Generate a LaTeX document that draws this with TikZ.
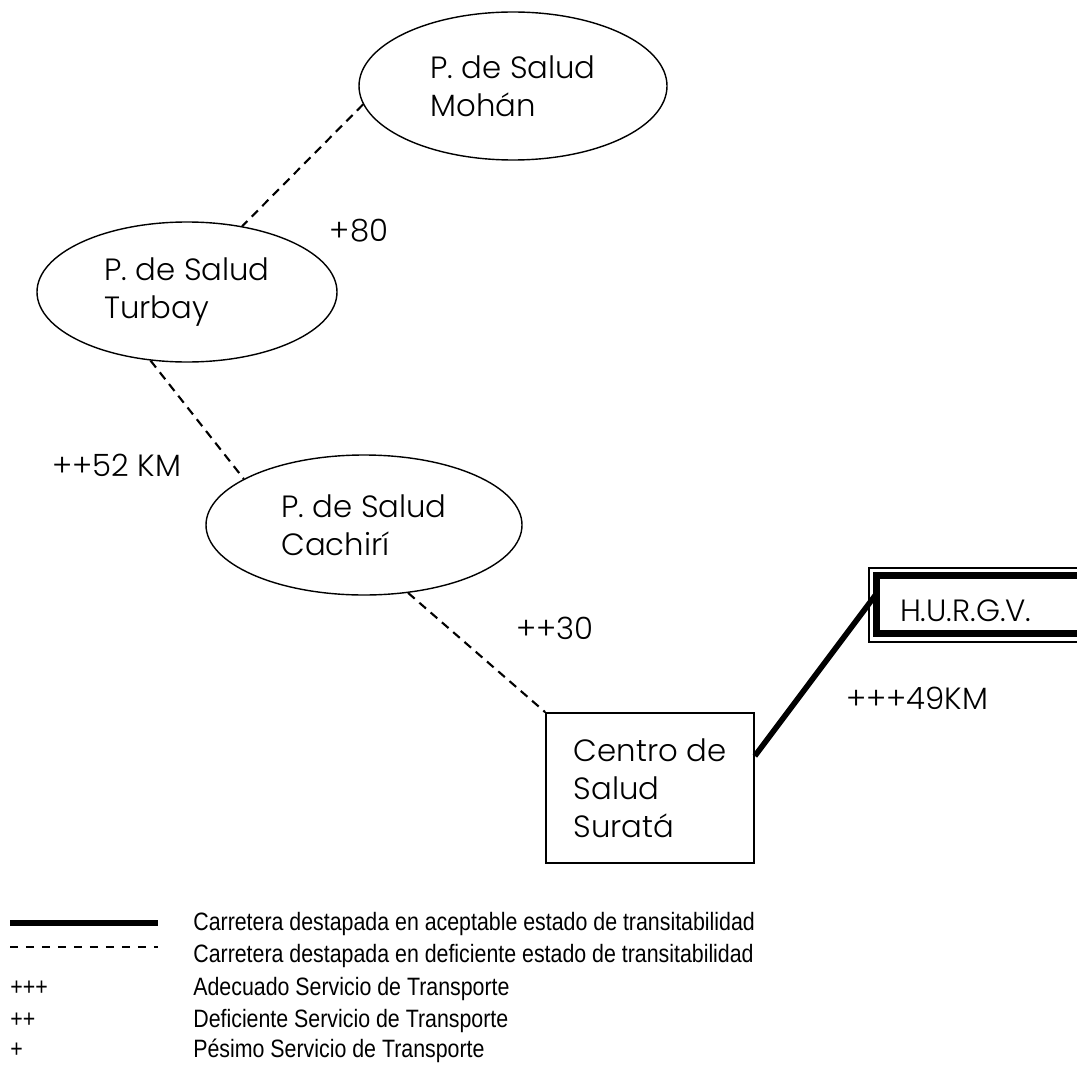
\documentclass[tikz,border=0pt]{standalone}
\usepackage{fontspec}
\setmainfont{Poppins}[UprightFont=* Light]
\newfontfamily\legendfont{Liberation Sans}[FakeStretch=0.85]
\usetikzlibrary{shapes.geometric,calc}

\begin{document}
\begin{tikzpicture}[x=0.02cm,y=-0.02cm,
  puesto/.style={ellipse,draw,line width=0.8pt,align=left,inner sep=0pt,font=\fontsize{17.5}{21.6}\selectfont},
  trocha/.style={line width=1.2pt,dash pattern=on 5pt off 3.5pt},
  via/.style={line width=3.2pt},
  etiq/.style={inner sep=0pt,font=\fontsize{17.5}{21.6}\selectfont},
  leyenda/.style={anchor=base west,inner sep=0pt,font=\legendfont\fontsize{14.3}{17}\selectfont}]
\def\pix{0.02cm}
\useasboundingbox (0,0) rectangle (1077,1064);

% puestos de salud %
\node[puesto,minimum width=308*\pix,minimum height=148*\pix] (mohan) at (513,86) {P. de Salud\\Mohán};
\node[puesto,minimum width=300*\pix,minimum height=140*\pix] (turbay) at (187,292) {P. de Salud\\Turbay};
\node[puesto,minimum width=316*\pix,minimum height=140*\pix] (cachiri) at (364,525) {P. de Salud\\Cachirí};

% centro de salud y hospital %
\node[draw,line width=1pt,align=left,minimum width=208*\pix,minimum height=150*\pix,
  font=\fontsize{17.5}{21.6}\selectfont] (surata) at (650,788) {Centro de\\Salud\\Suratá};
\node[draw,line width=3.8pt,outer sep=0pt,anchor=west,minimum height=58*\pix,
  text width=200*\pix,inner xsep=23.5*\pix,text height=19.7pt,text depth=0pt,align=left,
  font=\fontsize{17.5}{21.6}\selectfont] (hosp) at (876.5,604.5) {H.U.R.G.V.};
\draw[line width=0.6pt] ($(hosp.north west)+(-7.5,-7.5)$) rectangle ($(hosp.south east)+(7.5,8.5)$);

% vias %
\draw[trocha] (mohan.187) -- (turbay.50);
\draw[trocha] (turbay.242) -- (cachiri.159);
\draw[trocha] (cachiri.303) -- (surata.north west);
\draw[via] (surata.17) -- (hosp.175);

% distancias y servicio %
\node[etiq] (l80) at (359,231) {+80};
\node[etiq] (l52) at (117,465) {++52 KM};
\node[etiq] (l30) at (555,628) {++30};
\node[etiq] (l49) at (917,698) {+++49KM};

% convenciones %
\coordinate (a1) at (10,923);
\coordinate (a2) at (158,923);
\coordinate (b1) at (10,947);
\coordinate (b2) at (158,947);
\draw[line width=3.4pt] (a1) -- (a2);
\draw[line width=1.1pt,dash pattern=on 4.55pt off 4.55pt] (b1) -- (b2);
\node[leyenda] (ley1) at (193,930) {Carretera destapada en aceptable estado de transitabilidad};
\node[leyenda] (ley2) at (193,962) {Carretera destapada en deficiente estado de transitabilidad};
\node[leyenda] (s3) at (10,995) {+++};
\node[leyenda] (ley3) at (193,995) {Adecuado Servicio de Transporte};
\node[leyenda] (s2) at (10,1027) {++};
\node[leyenda] (ley4) at (193,1027) {Deficiente Servicio de Transporte};
\node[leyenda] (s1) at (10,1057) {+};
\node[leyenda] (ley5) at (193,1057) {Pésimo Servicio de Transporte};

\end{tikzpicture}
\end{document}
